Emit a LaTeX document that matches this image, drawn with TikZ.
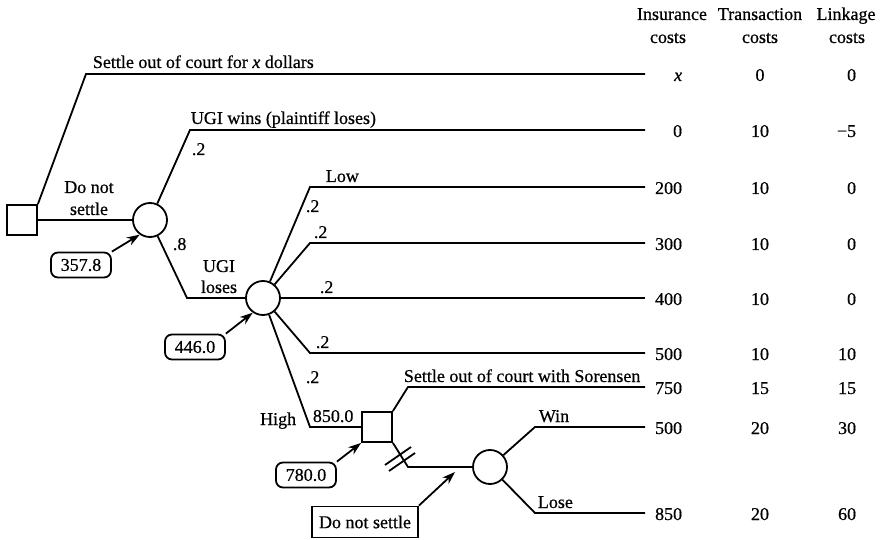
\documentclass[tikz,border=0pt]{standalone}
\usepackage{fontspec}
\setmainfont[FakeBold=0.6]{Liberation Serif}
\usetikzlibrary{arrows.meta}
\begin{document}
\begin{tikzpicture}[x=1pt,y=-1pt,line width=1.8pt,
  every node/.style={font=\fontsize{18}{20}\selectfont,inner sep=0pt},
  decbox/.style={draw,minimum size=30pt,inner sep=0pt},
  chance/.style={draw,circle,minimum size=34pt,inner sep=0pt},
  valbox/.style={draw,rounded corners=7pt,minimum width=60pt,minimum height=25pt,inner sep=2pt},
  plainbox/.style={draw,minimum width=106pt,minimum height=31pt,inner sep=2pt},
  arr/.style={-{Stealth[length=13pt,width=9pt]}},
  lbl/.style={anchor=base west},
  clbl/.style={anchor=base},
  c1v/.style={anchor=base east},
  c2v/.style={anchor=base},
  c3v/.style={anchor=base east}
]
\useasboundingbox (0,0) rectangle (887,540);

% decision and chance nodes
\node[decbox] (d1) at (22,220) {};
\node[chance] (c1) at (150,220) {};
\node[chance] (c2) at (263,298) {};
\node[decbox] (d2) at (377,427) {};
\node[chance] (c3) at (490,467) {};

% end points
\coordinate (e1) at (645,74);
\coordinate (e2) at (645,130);
\coordinate (e3) at (645,187);
\coordinate (e4) at (645,243);
\coordinate (e5) at (645,298);
\coordinate (e6) at (645,353);
\coordinate (e7) at (645,387);
\coordinate (e8) at (645,427);
\coordinate (e9) at (645,513);
\coordinate (tip) at (455,472);

% branches
\draw (d1.north east) -- (86,74) -- (e1);
\draw (d1) -- (c1);
\draw (c1) -- (190,130) -- (e2);
\draw (c1) -- (187,298) -- (c2);
\draw (c2) -- (310,187) -- (e3);
\draw (c2) -- (310,243) -- (e4);
\draw (c2) -- (e5);
\draw (c2) -- (310,353) -- (e6);
\draw (c2) -- (310,427) -- (d2);
\draw (d2.north east) -- (408,387) -- (e7);
\draw (d2.south east) -- (408,467) -- (c3);
\draw (c3) -- (535,427) -- (e8);
\draw (c3) -- (535,513) -- (e9);

% hash marks (blocked branch)
\draw (385,465) -- (411,447);
\draw (389,471) -- (415,453);

% value boxes and arrows
\node[valbox] (v1) at (81,265) {357.8};
\node[valbox] (v2) at (195,347) {446.0};
\node[valbox] (v3) at (306,475) {780.0};
\node[plainbox] (ds) at (365,522) {Do not settle};
\draw[arr] (v1.north east) -- (c1.235);
\draw[arr] (v2.north east) -- (c2.235);
\draw[arr] (v3.north east) -- (d2.south west);
\draw[arr] (ds.north east) -- (tip);

% branch labels
\node[lbl] (t1) at (92,68) {Settle out of court for \textit{x} dollars};
\node[lbl] (t2) at (190,124) {UGI wins (plaintiff loses)};
\node[lbl] (p1) at (191,155) {.2};
\node[clbl] (t3a) at (89,193) {Do not};
\node[clbl] (t3b) at (89,215) {settle};
\node[lbl] (p2) at (172,250) {.8};
\node[clbl] (t4a) at (219,272) {UGI};
\node[clbl] (t4b) at (219,293) {loses};
\node[lbl] (t5) at (325,182) {Low};
\node[lbl] (p3) at (305,212) {.2};
\node[lbl] (p4) at (313,238) {.2};
\node[lbl] (p5) at (319,293) {.2};
\node[lbl] (p6) at (315,348) {.2};
\node[lbl] (p7) at (305,383) {.2};
\node[anchor=base east] (t6) at (297,425) {High};
\node[lbl] (t7) at (312,422) {850.0};
\node[lbl] (t8) at (403,382) {Settle out of court with Sorensen};
\node[lbl] (t9) at (538,422) {Win};
\node[lbl] (t10) at (537,508) {Lose};

% column headers
\node[clbl] (h1a) at (672,20) {Insurance};
\node[clbl] (h1b) at (668,43) {costs};
\node[clbl] (h2a) at (760,20) {Transaction};
\node[clbl] (h2b) at (760,43) {costs};
\node[clbl] (h3a) at (846,20) {Linkage};
\node[clbl] (h3b) at (847,43) {costs};

% values
\node[c1v] at (683,81) {\textit{x}};   \node[c2v] at (760,81) {0};  \node[c3v] at (857,81) {0};
\node[c1v] at (683,137) {0};           \node[c2v] at (760,137) {10}; \node[c3v] at (857,137) {−5};
\node[c1v] at (683,194) {200};         \node[c2v] at (760,194) {10}; \node[c3v] at (857,194) {0};
\node[c1v] at (683,250) {300};         \node[c2v] at (760,250) {10}; \node[c3v] at (857,250) {0};
\node[c1v] at (683,305) {400};         \node[c2v] at (760,305) {10}; \node[c3v] at (857,305) {0};
\node[c1v] at (683,360) {500};         \node[c2v] at (760,360) {10}; \node[c3v] at (857,360) {10};
\node[c1v] at (683,394) {750};         \node[c2v] at (760,394) {15}; \node[c3v] at (857,394) {15};
\node[c1v] at (683,434) {500};         \node[c2v] at (760,434) {20}; \node[c3v] at (857,434) {30};
\node[c1v] at (683,520) {850};         \node[c2v] at (760,520) {20}; \node[c3v] at (857,520) {60};
\end{tikzpicture}
\end{document}
